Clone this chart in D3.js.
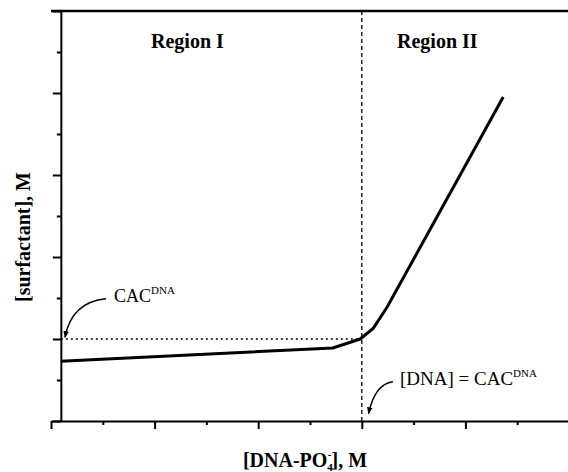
<!DOCTYPE html>
<html>
<head>
<meta charset="utf-8">
<script src="https://cdn.jsdelivr.net/npm/d3@7"></script>
<style>
  body { margin: 0; background: #fff; }
  text { font-family: "Liberation Serif", "Times New Roman", "DejaVu Serif", serif; fill: #000; }
</style>
</head>
<body>
<div id="chart"></div>
<script>
// curve (arbitrary units)
var dnaConc = [0.19, 5.44, 5.97, 6.22, 6.49, 8.73];
var surfConc = [0.73, 0.89, 1.0, 1.13, 1.39, 3.95];

var xMajor = [0, 2, 4, 6, 8, 10];
var xMinor = [1, 3, 5, 7, 9];
var yMajor = [0, 1, 2, 3, 4, 5];
var yMinor = [0.5, 1.5, 2.5, 3.5, 4.5];

var cacDna = 6;      // vertical dashed line
var cacLevel = 1;    // horizontal dotted line
var yAxisAt = 0.19;  // where the left axis crosses

var width = 568, height = 472;

let svg = d3.select('#chart')
  .append('svg')
  .attr('width', width)
  .attr('height', height);

var x = d3.scaleLinear().domain([0, 10]).range([51, 569]);
var y = d3.scaleLinear().domain([0, 5]).range([421, 11]);

function styleAxis(g) {
  g.selectAll('path').attr('stroke-width', 2);
  g.selectAll('line').attr('stroke-width', 2);
  g.selectAll('text').remove();
}

// bottom axis
svg.append('g')
  .attr('transform', `translate(0, ${y(0)})`)
  .call(d3.axisBottom(x).tickValues(xMajor).tickSize(8).tickSizeOuter(0).tickFormat(''))
  .call(styleAxis);
svg.append('g')
  .attr('transform', `translate(0, ${y(0)})`)
  .call(d3.axisBottom(x).tickValues(xMinor).tickSize(4).tickSizeOuter(0).tickFormat(''))
  .call(styleAxis)
  .select('path').remove();

// left axis
svg.append('g')
  .attr('transform', `translate(${x(yAxisAt)}, 0)`)
  .call(d3.axisLeft(y).tickValues(yMajor).tickSize(8).tickSizeOuter(0).tickFormat(''))
  .call(styleAxis);
svg.append('g')
  .attr('transform', `translate(${x(yAxisAt)}, 0)`)
  .call(d3.axisLeft(y).tickValues(yMinor).tickSize(4).tickSizeOuter(0).tickFormat(''))
  .call(styleAxis)
  .select('path').remove();

// top frame line
svg.append('line')
  .attr('x1', x(0)).attr('x2', x(10))
  .attr('y1', y(5)).attr('y2', y(5))
  .attr('stroke', '#000').attr('stroke-width', 2.5);

// dashed CAC line
svg.append('line')
  .attr('x1', x(cacDna)).attr('x2', x(cacDna))
  .attr('y1', y(5)).attr('y2', y(0))
  .attr('stroke', '#000').attr('stroke-width', 1.3)
  .attr('stroke-dasharray', '4,3');

// dotted level line
svg.append('line')
  .attr('x1', x(yAxisAt)).attr('x2', x(cacDna))
  .attr('y1', y(cacLevel)).attr('y2', y(cacLevel))
  .attr('stroke', '#000').attr('stroke-width', 1.3)
  .attr('stroke-dasharray', '2,3');

// the curve
var pts = dnaConc.map((d, i) => [d, surfConc[i]]);
svg.append('path')
  .datum(pts)
  .attr('fill', 'none')
  .attr('stroke', '#000')
  .attr('stroke-width', 3)
  .attr('stroke-linejoin', 'round')
  .attr('d', d3.line().x(d => x(d[0])).y(d => y(d[1])));

// arrows
svg.append('defs').append('marker')
  .attr('id', 'head')
  .attr('viewBox', '0 0 10 10')
  .attr('refX', 9).attr('refY', 5)
  .attr('markerWidth', 7).attr('markerHeight', 7)
  .attr('markerUnits', 'userSpaceOnUse')
  .attr('orient', 'auto')
  .append('path')
  .attr('d', 'M0,1 L10,5 L0,9 Z')
  .attr('fill', '#000');

function arrow(p0, c, p1) {
  var path = d3.path();
  path.moveTo(x(p0[0]), y(p0[1]));
  path.quadraticCurveTo(x(c[0]), y(c[1]), x(p1[0]), y(p1[1]));
  svg.append('path')
    .attr('d', path.toString())
    .attr('fill', 'none')
    .attr('stroke', '#000')
    .attr('stroke-width', 1.5)
    .attr('marker-end', 'url(#head)');
}
arrow([1.06, 1.49], [0.40, 1.45], [0.27, 1.02]);
arrow([6.60, 0.48], [6.25, 0.45], [6.13, 0.09]);

// region labels
svg.append('text').attr('x', 151).attr('y', 48)
  .style('font-size', '20px').style('font-weight', 'bold')
  .text('Region I');
svg.append('text').attr('x', 397).attr('y', 48)
  .style('font-size', '20px').style('font-weight', 'bold')
  .text('Region II');

// annotation texts
let t1 = svg.append('text').attr('x', 114).attr('y', 302).style('font-size', '18px');
t1.append('tspan').text('CAC');
t1.append('tspan').attr('dy', -8).style('font-size', '11px').text('DNA');

let t2 = svg.append('text').attr('x', 400).attr('y', 385).style('font-size', '19px');
t2.append('tspan').text('[DNA] = CAC');
t2.append('tspan').attr('dy', -8).style('font-size', '11px').text('DNA');

// axis titles
let xl = svg.append('text')
  .attr('x', 305).attr('y', 467)
  .attr('text-anchor', 'middle')
  .style('font-size', '20px').style('font-weight', 'bold');
xl.append('tspan').text('[DNA-PO');
xl.append('tspan').attr('dy', 4).style('font-size', '11px').text('4');
xl.append('tspan').attr('dy', -13).attr('dx', -5).style('font-size', '11px').text('-');
xl.append('tspan').attr('dy', 9).text('], M');

svg.append('text')
  .attr('transform', `translate(30, ${237}) rotate(-90)`)
  .attr('text-anchor', 'middle')
  .style('font-size', '20px').style('font-weight', 'bold')
  .text('[surfactant], M');
</script>
</body>
</html>
